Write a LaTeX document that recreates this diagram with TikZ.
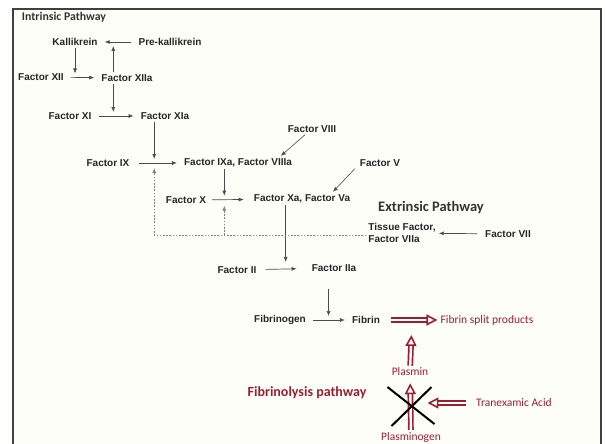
\documentclass[tikz,border=0pt]{standalone}
\usepackage{fontspec}
\setmainfont{Liberation Sans}
\newfontfamily\calfont{Carlito}
\usetikzlibrary{positioning, arrows.meta}

\definecolor{fibred}{RGB}{150,32,50}
\definecolor{linegray}{RGB}{75,75,75}
\definecolor{paper}{RGB}{254,254,249}

\begin{document}
\begin{tikzpicture}[x=1pt, y=-1pt,
		>={Latex[length=5pt, width=4pt]},
		factor/.style={font=\fontsize{10}{12}\selectfont\bfseries, inner sep=2pt, text=black!85},
		heading/.style={text=black!80, inner sep=1pt},
		lysis/.style={font=\calfont\fontsize{11.5}{13}\selectfont, text=fibred, inner sep=2pt},
		arr/.style={->, draw=linegray, line width=0.7pt, shorten <=5pt, shorten >=5pt},
		vline/.style={->, draw=linegray, line width=0.7pt, shorten >=4pt},
		feed/.style={->, draw=linegray, line width=0.6pt, shorten >=1pt},
		dotline/.style={->, draw=gray, line width=0.8pt, dash pattern=on 1.6pt off 1.6pt, shorten >=5pt},
		hollow/.style={draw=fibred, line width=1.7pt, double=white, double distance=2.4pt,
			-{Triangle[open, length=11pt, width=11pt, line width=1.6pt]}},
		crossline/.style={draw=black, line width=2pt}
		]
		
		% --- Frame ---
		\useasboundingbox (0,0) rectangle (605,444);
		\fill[white] (0,0) rectangle (605,444);
		\fill[paper] (13,9) rectangle (601,444);
		\draw[black!75, line width=1.3pt] (13,444) -- (13,9) -- (601,9) -- (601,444);
		
		% --- Intrinsic pathway ---
		\node[heading, font=\calfont\fontsize{11.8}{13}\selectfont\bfseries] (intr) at (64,17) {Intrinsic Pathway};
		\node[factor] (kal) at (75,42) {Kallikrein};
		\node[factor] (pk) at (170,42) {Pre-kallikrein};
		\node[factor] (xii) at (41,77) {Factor XII};
		\node[factor] (xiia) at (127,78) {Factor XIIa};
		\node[factor] (xi) at (70,116) {Factor XI};
		\node[factor] (xia) at (165,116) {Factor XIa};
		\node[factor] (ix) at (108,163) {Factor IX};
		\node[factor] (ixa) at (238,163) {Factor IXa, Factor VIIIa};
		\node[factor] (f8) at (312,129) {Factor VIII};
		
		\draw[arr] (pk) -- coordinate[pos=0.63] (pkm) (kal);
		\draw[arr] (xii) -- coordinate[midway] (xiim) (xiia);
		\draw[arr] (xi) -- coordinate[midway] (xim) (xia);
		\draw[arr, shorten <=7pt] (ix) -- coordinate[pos=0.45] (ixm) (ixa);
		
		\draw[vline] (kal) -- (kal |- xiim);
		\draw[vline] (xiia.north -| pkm) -- (pkm);
		\draw[vline] (xiia.south -| pkm) -- (pkm |- xim);
		\draw[vline] (xia.south -| ixm) -- (ixm);
		\draw[feed] ([xshift=-7pt]f8.south) -- ([xshift=-14pt]ixa.north east);
		
		% --- Common pathway ---
		\node[factor] (x) at (186,200) {Factor X};
		\node[factor] (xa) at (302,199) {Factor Xa, Factor Va};
		\node[factor] (f5) at (380,163) {Factor V};
		\node[factor] (ii) at (237,270) {Factor II};
		\node[factor] (iia) at (334,268) {Factor IIa};
		\node[factor] (fg) at (280,320) {Fibrinogen};
		\node[factor] (fib) at (366,320) {Fibrin};
		
		\draw[arr, shorten <=4pt, shorten >=8pt] (x) -- coordinate[pos=0.37] (xm) (xa);
		\draw[arr, shorten <=7pt, shorten >=13pt] (ii) -- coordinate[pos=0.53] (iim) (iia);
		\draw[arr] (fg) -- coordinate[pos=0.49] (fgm) (fib);
		
		\draw[vline] (ixa.south -| xm) -- (xm);
		\draw[vline, shorten >=7pt] (xa.south -| iim) -- (iim);
		\draw[vline, shorten <=15pt] (iia.south -| fgm) -- (fgm);
		\draw[feed] ([xshift=-3pt]f5.south west) -- ([xshift=-20pt]xa.north east);
		
		% --- Extrinsic pathway ---
		\node[heading, font=\calfont\fontsize{14.5}{16}\selectfont\bfseries] (extr) at (431,208) {Extrinsic Pathway};
		\node[factor, align=left] (tf) at (402,233) {Tissue Factor,\\Factor VIIa};
		\node[factor] (f7) at (508,234) {Factor VII};
		\coordinate (tfw) at ([yshift=-2pt]tf.west);
		
		\draw[arr, shorten <=6pt, shorten >=1pt] (f7) -- (tf);
		\draw[dotline] (tfw) -| (ixm);
		\draw[dotline, shorten >=6pt] (xm |- tfw) -- (xm);
		
		% --- Fibrinolysis ---
		\node[lysis] (split) at (487,320) {Fibrin split products};
		\node[lysis] (plasmin) at (410,372) {Plasmin};
		\node[lysis] (pg) at (411,437) {Plasminogen};
		\node[lysis] (txa) at (514,403) {Tranexamic Acid};
		\node[font=\calfont\fontsize{14}{16}\selectfont\bfseries, text=fibred] (lys) at (307,393) {Fibrinolysis pathway};
		
		\draw[hollow, shorten <=9pt, shorten >=1pt] (fib) -- coordinate[pos=0.53] (fibm) (split);
		\draw[hollow, shorten >=15pt] (plasmin) -- (fibm);
		\draw[hollow, shorten >=5pt] (pg) -- coordinate[midway] (pgm) (plasmin);
		\draw[hollow, shorten <=8pt, shorten >=17pt] (txa) -- (txa -| pgm);
		
		\draw[crossline] ([shift={(-23,-17)}]pgm) -- ([shift={(24,20)}]pgm);
		\draw[crossline] ([shift={(21,-17)}]pgm) -- ([shift={(-19,22)}]pgm);
		
	\end{tikzpicture}
\end{document}
